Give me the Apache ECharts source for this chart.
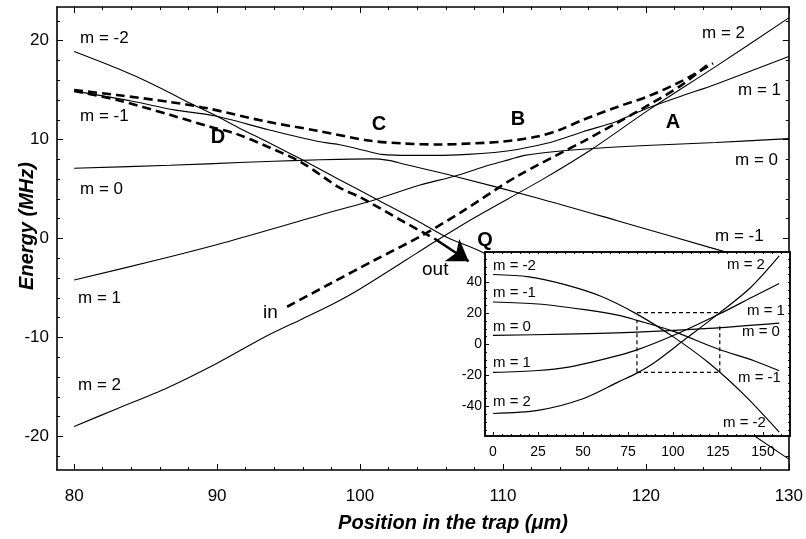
<!DOCTYPE html>
<html><head><meta charset="utf-8">
<script src="https://cdn.jsdelivr.net/npm/echarts@6/dist/echarts.min.js"></script>
<style>html,body{margin:0;padding:0;background:#fff}#c{width:806px;height:539px}</style>
</head><body><div id="c"></div>
<script>
// ---------- main plot data ----------
const xMajor = [80, 90, 100, 110, 120, 130];
const xMinor = [82, 84, 86, 88, 92, 94, 96, 98, 102, 104, 106, 108, 112, 114, 116, 118, 122, 124, 126, 128];
const yMajor = [-20, -10, 0, 10, 20];
const yMinor = [-22, -18, -16, -14, -12, -8, -6, -4, -2, 2, 4, 6, 8, 12, 14, 16, 18, 22];

// m=-2 (left) -> D -> steep down (under inset) -> bottom right
const curveA_x = [80, 83, 85.5, 87.8, 89.8, 91.5, 93.6, 95.9, 98.5, 101.25, 104, 106.1, 108.7, 115, 120, 125, 130];
const curveA_y = [18.9, 17.2, 15.6, 13.9, 12.5, 11.2, 9.7, 8.0, 6.0, 3.9, 1.8, 0.1, -1.5, -7.5, -12.4, -17.4, -22.3];
// m=-1 (left) -> D -> C -> B -> A -> m=1 (right)
const curveB_x = [80, 84, 87, 89.8, 93.6, 97.1, 98.5, 100.6, 101.5, 103.5, 105.4, 107.5, 109.4, 111, 113.3, 115.6, 117.9, 119.8, 122.5, 124.9, 130];
const curveB_y = [14.9, 13.9, 13.0, 12.4, 11.0, 9.8, 9.5, 8.8, 8.5, 8.4, 8.4, 8.5, 8.7, 9.0, 9.7, 10.8, 11.8, 13.0, 14.4, 15.6, 18.4];
// m=0 (left) -> C -> m=-1 (right)
const curveC_x = [80, 86.7, 92, 95.9, 98.5, 100.8, 102, 103.1, 106.6, 112.4, 118, 124.7, 130];
const curveC_y = [7.1, 7.4, 7.7, 7.9, 8.0, 8.05, 7.9, 7.5, 6.3, 4.1, 1.8, -1.0, -3.2];
// m=1 (left) -> B -> m=0 (right)
const curveD_x = [80, 86, 90.8, 97.8, 101, 104.2, 106.6, 109, 110.5, 111.5, 113, 116.3, 120, 124.9, 130];
const curveD_y = [-4.2, -2.1, -0.3, 2.6, 3.9, 5.4, 6.3, 7.4, 8.0, 8.4, 8.7, 9.1, 9.4, 9.7, 10.1];
// m=2 (left) -> A -> m=2 (right)
const curveE_x = [80, 83, 86.5, 90, 93.4, 96, 98, 100, 103.3, 104.7, 108, 112.8, 116.3, 120.2, 124.9, 130];
const curveE_y = [-19.0, -17.2, -15.1, -12.6, -9.9, -8.1, -6.7, -5.1, -2.1, -0.8, 2.1, 6.0, 9.1, 13.0, 17.4, 22.3];

// dashed paths
const dashUp_x = [80, 83, 86.7, 89.2, 93.5, 97, 100.6, 103.1, 105.5, 107.7, 110, 112.4, 114, 115.6, 118, 120.2, 122.5, 124.7];
const dashUp_y = [15.0, 14.5, 13.8, 13.2, 11.8, 10.9, 9.9, 9.6, 9.5, 9.6, 9.8, 10.3, 11.0, 12.0, 13.3, 14.4, 15.9, 17.7];
const dashOut_x = [80, 83, 86.7, 89.5, 91.3, 93.5, 95.9, 98.5, 100.1, 103.1, 105.2];
const dashOut_y = [14.9, 14.0, 12.5, 11.3, 10.6, 9.3, 7.7, 5.2, 4.1, 1.65, 0.0];
const dashIn_x = [94.9, 98, 101, 104.2, 107, 111, 115.6, 118, 120.2, 122.5, 124.5];
const dashIn_y = [-6.9, -4.5, -2.2, 0.2, 2.6, 6.3, 9.8, 11.7, 13.5, 15.5, 17.8];
const arrowCoords = [[105.2, 0.0], [107.6, -2.3]];

// ---------- inset data ----------
const insetXMajor = [0, 25, 50, 75, 100, 125, 150];
const insetXMinor = [5, 10, 15, 20, 30, 35, 40, 45, 55, 60, 65, 70, 80, 85, 90, 95, 105, 110, 115, 120, 130, 135, 140, 145, 155, 160];
const insetYMajor = [-40, -20, 0, 20, 40];
const insetYMinor = [-55, -50, -45, -35, -30, -25, -15, -10, -5, 5, 10, 15, 25, 30, 35, 45, 50, 55];

const inMm2_x = [0, 20, 40, 60, 80, 100, 120, 140, 159];
const inMm2_y = [45, 43.5, 38.5, 31, 19.5, 5, -12, -33, -56.5];
const inMm1_x = [0, 25, 50, 70, 80, 100, 125, 145, 159];
const inMm1_y = [27.3, 26, 22.5, 18.7, 15.5, 8.5, -3, -10.5, -17];
const inM0_x = [0, 40, 80, 120, 159];
const inM0_y = [5.8, 6.6, 7.9, 10.3, 13.7];
const inMp1_x = [0, 25, 42, 60, 80, 104, 126, 145, 159];
const inMp1_y = [-18, -16.8, -14.6, -10, -3.5, 7.7, 19.7, 31, 39.2];
const inMp2_x = [0, 25, 50, 70, 80, 90, 106, 125, 143, 159];
const inMp2_y = [-44.5, -42.5, -35, -24, -18.5, -11.5, 2.6, 19.5, 36.5, 57];

const rectTop_x = [80, 126], rectTop_y = [20.5, 20.5];
const rectBot_x = [80, 126], rectBot_y = [-18, -18];
const rectLeft_x = [80, 80], rectLeft_y = [-18, 15.5];
const rectRight_x = [126, 126], rectRight_y = [-18, 12];

// ---------- build ----------
const FF = '"Liberation Sans", Arial, Helvetica, sans-serif';
const zip = (xs, ys) => xs.map((x, i) => [x, ys[i]]);

function solid(xs, ys) {
  return {type: 'line', xAxisIndex: 0, yAxisIndex: 0, data: zip(xs, ys), showSymbol: false, symbol: 'none',
    smooth: 0.3, lineStyle: {color: '#000', width: 1.1}, z: 2, silent: true};
}
function dashed(xs, ys) {
  return {type: 'line', xAxisIndex: 0, yAxisIndex: 0, data: zip(xs, ys), showSymbol: false, symbol: 'none',
    smooth: 0.3, lineStyle: {color: '#000', width: 2.6, type: [9, 5]}, z: 3, silent: true};
}
function inset(xs, ys, dash) {
  return {type: 'line', xAxisIndex: 4, yAxisIndex: 4, data: zip(xs, ys), showSymbol: false, symbol: 'none',
    smooth: dash ? false : 0.3, lineStyle: {color: '#000', width: 1.2, type: dash ? [4, 3] : 'solid'}, z: 60, silent: true};
}

function axis(o) {
  const base = {type: 'value', splitLine: {show: false}, axisTick: {show: false}, axisLabel: {show: false}};
  const r = Object.assign(base, o);
  r.axisLine = Object.assign({show: false}, o.axisLine || {}, {onZero: false});
  return r;
}
const black = {color: '#000'};

const MX = {min: 78.8, max: 130};
const MY = {min: -23.4, max: 23.4};
const IX = {min: -4.4, max: 165};
const IY = {min: -59, max: 59.5};

const xAxis = [
  axis(Object.assign({gridIndex: 0, position: 'bottom', z: 1,
    axisLine: {show: true, lineStyle: {color: '#000', width: 1.6}},
    axisTick: {show: true, inside: true, length: 6, customValues: xMajor, lineStyle: black},
    axisLabel: {show: true, customValues: xMajor, margin: 18, color: '#000', fontSize: 17, fontFamily: FF}}, MX)),
  axis(Object.assign({gridIndex: 0, position: 'bottom',
    axisTick: {show: true, inside: true, length: 3, customValues: xMinor, lineStyle: black}}, MX)),
  axis(Object.assign({gridIndex: 0, position: 'top',
    axisLine: {show: true, lineStyle: {color: '#000', width: 1.6}},
    axisTick: {show: true, inside: true, length: 6, customValues: xMajor, lineStyle: black}}, MX)),
  axis(Object.assign({gridIndex: 0, position: 'top',
    axisTick: {show: true, inside: true, length: 3, customValues: xMinor, lineStyle: black}}, MX)),
  axis(Object.assign({gridIndex: 1, position: 'bottom', z: 60,
    axisLine: {show: true, lineStyle: {color: '#000', width: 1.5}},
    axisTick: {show: true, inside: true, length: 4, customValues: insetXMajor, lineStyle: black},
    axisLabel: {show: true, customValues: insetXMajor, margin: 9, color: '#000', fontSize: 14, fontFamily: FF}}, IX)),
  axis(Object.assign({gridIndex: 1, position: 'bottom', z: 60,
    axisTick: {show: true, inside: true, length: 2, customValues: insetXMinor, lineStyle: black}}, IX)),
  axis(Object.assign({gridIndex: 1, position: 'top', z: 60,
    axisLine: {show: true, lineStyle: {color: '#000', width: 1.5}},
    axisTick: {show: true, inside: true, length: 2, customValues: insetXMinor.concat(insetXMajor), lineStyle: black}}, IX))
];
const yAxis = [
  axis(Object.assign({gridIndex: 0, position: 'left',
    axisLine: {show: true, lineStyle: {color: '#000', width: 1.6}},
    axisTick: {show: true, inside: true, length: 6, customValues: yMajor, lineStyle: black},
    axisLabel: {show: true, customValues: yMajor, margin: 8, color: '#000', fontSize: 17, fontFamily: FF}}, MY)),
  axis(Object.assign({gridIndex: 0, position: 'left',
    axisTick: {show: true, inside: true, length: 3, customValues: yMinor, lineStyle: black}}, MY)),
  axis(Object.assign({gridIndex: 0, position: 'right',
    axisLine: {show: true, lineStyle: {color: '#000', width: 1.6}},
    axisTick: {show: true, inside: true, length: 6, customValues: yMajor, lineStyle: black}}, MY)),
  axis(Object.assign({gridIndex: 0, position: 'right',
    axisTick: {show: true, inside: true, length: 3, customValues: yMinor, lineStyle: black}}, MY)),
  axis(Object.assign({gridIndex: 1, position: 'left', z: 60,
    axisLine: {show: true, lineStyle: {color: '#000', width: 1.5}},
    axisTick: {show: true, inside: true, length: 4, customValues: insetYMajor, lineStyle: black},
    axisLabel: {show: true, customValues: insetYMajor, margin: 3, color: '#000', fontSize: 14, fontFamily: FF}}, IY)),
  axis(Object.assign({gridIndex: 1, position: 'left', z: 60,
    axisTick: {show: true, inside: true, length: 2, customValues: insetYMinor, lineStyle: black}}, IY)),
  axis(Object.assign({gridIndex: 1, position: 'right', z: 60,
    axisLine: {show: true, lineStyle: {color: '#000', width: 1.5}},
    axisTick: {show: true, inside: true, length: 2, customValues: insetYMinor.concat(insetYMajor), lineStyle: black}}, IY))
];

const series = [
  solid(curveA_x, curveA_y), solid(curveB_x, curveB_y), solid(curveC_x, curveC_y),
  solid(curveD_x, curveD_y), solid(curveE_x, curveE_y),
  dashed(dashUp_x, dashUp_y), dashed(dashOut_x, dashOut_y), dashed(dashIn_x, dashIn_y),
  {type: 'lines', coordinateSystem: 'cartesian2d', xAxisIndex: 0, yAxisIndex: 0, polyline: false,
    symbol: ['none', 'arrow'], symbolSize: 20, silent: true, z: 4,
    lineStyle: {color: '#000', width: 2.6, type: 'solid', opacity: 1},
    data: [{coords: arrowCoords}]},
  inset(inMm2_x, inMm2_y), inset(inMm1_x, inMm1_y), inset(inM0_x, inM0_y),
  inset(inMp1_x, inMp1_y), inset(inMp2_x, inMp2_y),
  inset(rectTop_x, rectTop_y, true), inset(rectBot_x, rectBot_y, true),
  inset(rectLeft_x, rectLeft_y, true), inset(rectRight_x, rectRight_y, true)
];

const IG = {left: 485, top: 252, width: 305, height: 184};

function txt(t, x, y, size, opts) {
  opts = opts || {};
  return {type: 'text', x: x, y: y, z: opts.z || 40, rotation: opts.rot || 0,
    style: {text: t, fill: '#000', font: (opts.weight || '') + ' ' + size + 'px ' + FF,
      align: opts.align || 'left', verticalAlign: 'middle', textAlign: opts.align || 'left', textVerticalAlign: 'middle'}};
}

const graphic = [
  {type: 'rect', z: 50, shape: {x: IG.left, y: IG.top, width: IG.width, height: IG.height},
    style: {fill: '#fff', stroke: '#000', lineWidth: 1.5}},
  // main labels
  txt('m = -2', 80, 38, 17), txt('m = -1', 80, 116, 17), txt('m = 0', 80, 189, 17),
  txt('m = 1', 78, 298, 17), txt('m = 2', 78, 385, 17),
  txt('m = 2', 702, 33, 17), txt('m = 1', 738, 90, 17), txt('m = 0', 735, 160, 17), txt('m = -1', 715, 236, 17),
  txt('C', 379, 124, 20, {weight: 'bold', align: 'center'}),
  txt('D', 218, 137, 20, {weight: 'bold', align: 'center'}),
  txt('B', 518, 119, 20, {weight: 'bold', align: 'center'}),
  txt('A', 673, 122, 20, {weight: 'bold', align: 'center'}),
  txt('Q', 485, 240, 20, {weight: 'bold', align: 'center'}),
  txt('out', 422, 270, 19), txt('in', 263, 313, 19),
  // inset labels
  txt('m = -2', 493, 266, 15, {z: 70}), txt('m = -1', 493, 293, 15, {z: 70}), txt('m = 0', 493, 327, 15, {z: 70}),
  txt('m = 1', 493, 363, 15, {z: 70}), txt('m = 2', 493, 402, 15, {z: 70}),
  txt('m = 2', 727, 265, 15, {z: 70}), txt('m = 1', 747, 311, 15, {z: 70}), txt('m = 0', 742, 332, 15, {z: 70}),
  txt('m = -1', 738, 378, 15, {z: 70}), txt('m = -2', 723, 423, 15, {z: 70}),
  // axis titles
  txt('Position in the trap (μm)', 453, 523, 20, {weight: 'italic bold', align: 'center'}),
  txt('Energy (MHz)', 27, 226, 20, {weight: 'italic bold', align: 'center', rot: Math.PI / 2})
];

const chart = echarts.init(document.getElementById('c'), null, {renderer: 'canvas'});
chart.setOption({
  animation: false,
  backgroundColor: '#fff',
  grid: [
    {left: 57, top: 7, right: 12, bottom: 69, containLabel: false},
    {left: IG.left, top: IG.top, width: IG.width, height: IG.height, containLabel: false}
  ],
  xAxis: xAxis,
  yAxis: yAxis,
  series: series,
  graphic: graphic
});
</script>
</body></html>
